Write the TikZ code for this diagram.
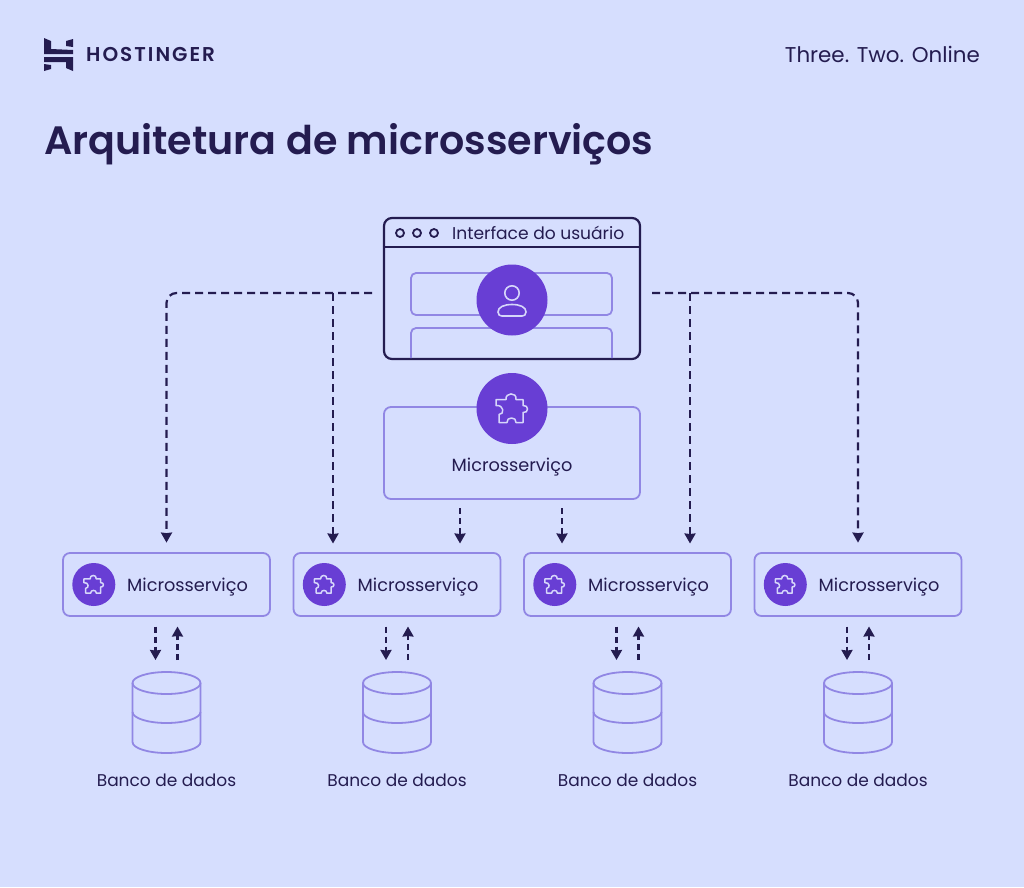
\documentclass[tikz,border=0pt]{standalone}
\usepackage{fontspec}
\setmainfont{Poppins}
\newfontfamily\semifont{Poppins SemiBold}
\usepackage{tikz}
\usetikzlibrary{arrows.meta}
\usetikzlibrary{positioning}
\definecolor{paleblue}{RGB}{214,222,254}
\definecolor{inkblue}{RGB}{36,28,80}
\definecolor{boxline}{RGB}{145,135,228}
\definecolor{violet}{RGB}{104,62,212}
\definecolor{iconline}{RGB}{214,214,250}
\tikzset{
	msbox/.style={
		rectangle,
		rounded corners=7pt,
		draw=boxline,
		line width=1.8pt,
		minimum width=207pt,
		minimum height=63pt,
		inner sep=0pt,
	},
	iconball/.style={
		circle,
		fill=violet,
		inner sep=0pt,
	},
	label/.style={
		text=inkblue,
		font=\fontsize{17.7}{20}\selectfont,
		inner sep=0pt,
	},
	dashline/.style={
		draw=inkblue,
		line width=2.2pt,
		dash pattern=on 8pt off 5pt,
	},
	puzzle/.pic={
		\draw[iconline,line width=1.5pt,line join=round]
		(-16,-9) -- (-6,-9) .. controls (-7,-16) and (5,-17) .. (4,-9) -- (11,-9) -- (11,-3)
		.. controls (17,-4) and (17,5) .. (11,4) -- (11,14) -- (4,14)
		.. controls (5,8) and (-6,8) .. (-5,14) -- (-13,14) -- (-13,6)
		.. controls (-7,6) and (-8,-4) .. (-16,-3) -- cycle;
	},
	dbstack/.pic={
		\draw[boxline,line width=1.8pt] (0,-30) ellipse[x radius=34,y radius=11];
		\draw[boxline,line width=1.8pt] (-34,-30) -- (-34,29) arc[x radius=34,y radius=11,start angle=180,end angle=0] -- (34,-30);
		\draw[boxline,line width=1.8pt] (-34,-1) arc[x radius=34,y radius=11,start angle=180,end angle=0];
	},
}
\begin{document}
\begin{tikzpicture}[x=1pt,y=-1pt,>={Stealth[length=10pt,width=11pt,inset=0.5pt]}]
	
	\fill[paleblue] (0,0) rectangle (1024,887);
	\useasboundingbox (0,0) rectangle (1024,887);
	
	% logo
	\fill[inkblue] (44,38) -- (51,41) -- (51,49) -- (73,50) -- (73,54) -- (44,54) -- cycle;
	\fill[inkblue] (66,41) -- (73,39) -- (73,47) -- (66,46) -- cycle;
	\fill[inkblue] (44,57) -- (73,57) -- (73,71) -- (66,68) -- (66,62) -- (44,62) -- cycle;
	\fill[inkblue] (44,64) -- (51,65) -- (51,69) -- (44,71) -- cycle;
	\node[label,anchor=west,font=\fontsize{20}{20}\selectfont\semifont\addfontfeature{LetterSpace=10}] (BRAND) at (86,54.5) {HOSTINGER};
	\node[label,anchor=east,font=\fontsize{21.4}{24}\selectfont] (MOTTO) at (980,54) {Three. Two. Online};
	\node[label,anchor=west,font=\fontsize{39.6}{40}\selectfont\semifont] (TITLE) at (44,144.5) {Arquitetura de microsserviços};
	
	% user interface window
	\node[rectangle,
	rounded corners=8pt,
	draw=inkblue,
	line width=2.2pt,
	minimum width=256pt,
	minimum height=141pt,
	inner sep=0pt] (WINDOW) at (512,288.5) {};
	\draw[boxline,line width=1.8pt,rounded corners=5pt] (411,273) rectangle (612,315);
	\draw[boxline,line width=1.8pt,rounded corners=5pt] (411,358) -- (411,328) -- (612,328) -- (612,358);
	\draw[inkblue,line width=2.2pt] (WINDOW.west |- 0,247) -- (WINDOW.east |- 0,247);
	\foreach \dotx in {400,417,434}
		\draw[inkblue,line width=1.8pt] (\dotx,233) circle (4);
	\node[label,anchor=west,font=\fontsize{17.1}{20}\selectfont] (WINNAME) at (452,232.5) {Interface do usuário};
	\node[iconball,minimum size=71pt] (USERBALL) at (512,300) {};
	\draw[iconline,line width=1.6pt] (USERBALL.center) ++(0,-7) circle (7.2);
	\draw[iconline,line width=1.6pt] (498,312) .. controls (498,307) and (504,304.5) .. (512,304.5)
	.. controls (520,304.5) and (526,307) .. (526,312) .. controls (526,315) and (524,316) .. (522,316)
	-- (502,316) .. controls (500,316) and (498,315) .. (498,312) -- cycle;
	
	% central service
	\node[msbox,
	minimum width=256pt,
	minimum height=92pt] (CENTRE) at (512,453) {};
	\node[iconball,minimum size=71pt] (CENTREBALL) at (512,408.5) {};
	\pic at (CENTREBALL.center) {puzzle};
	\node[label] (CENTRENAME) at (512,467) {Microsserviço};
	
	% the four columns
	\node[msbox] (MS1) at (166.5,584.5) {};
	\node[msbox,right=21.7pt of MS1] (MS2) {};
	\node[msbox,right=21.7pt of MS2] (MS3) {};
	\node[msbox,right=21.7pt of MS3] (MS4) {};
	
	\foreach \col in {1,2,3,4}
	{
		\node[iconball,minimum size=43pt,right=10pt of MS\col.west,anchor=west] (BALL\col) {};
		\pic[scale=0.62] at (BALL\col.center) {puzzle};
		\node[label,yshift=-2.5pt,right=11.5pt of BALL\col] (NAME\col) {Microsserviço};
		\coordinate (DB\col) at ([yshift=-128.5pt]MS\col.center);
		\pic at (DB\col) {dbstack};
		\node[label,font=\fontsize{17}{20}\selectfont,below=196pt of MS\col.center,anchor=center] (DBNAME\col) {Banco de dados};
		\draw[dashline,dash pattern=on 6pt off 4pt,->] ([xshift=-11pt,yshift=-42pt]MS\col.center) -- ([xshift=-11pt,yshift=53pt]DB\col);
		\draw[dashline,dash pattern=on 6pt off 4pt,->] ([xshift=11pt,yshift=53pt]DB\col) -- ([xshift=11pt,yshift=-42pt]MS\col.center);
	}
	
	% dashed links
	\coordinate (LEFTEND) at (372,293);
	\coordinate (RIGHTEND) at (652,293);
	\coordinate (DROPB) at (333,293);
	\coordinate (DROPC) at (690,293);
	\coordinate (TOPB) at (460,508);
	\coordinate (TOPC) at (562,508);
	\draw[dashline,rounded corners=10pt,->] (LEFTEND) -- (MS1.north |- LEFTEND) -- ([yshift=9.5pt]MS1.north);
	\draw[dashline,rounded corners=10pt,->] (RIGHTEND) -- (MS4.north |- RIGHTEND) -- ([yshift=9.5pt]MS4.north);
	\draw[dashline,->] (DROPB) -- (DROPB |- 0,543.5);
	\draw[dashline,->] (DROPC) -- (DROPC |- 0,543.5);
	\draw[dashline,dash pattern=on 6pt off 4pt,->] (TOPB) -- (TOPB |- 0,543.5);
	\draw[dashline,dash pattern=on 6pt off 4pt,->] (TOPC) -- (TOPC |- 0,543.5);
	
\end{tikzpicture}
\end{document}
